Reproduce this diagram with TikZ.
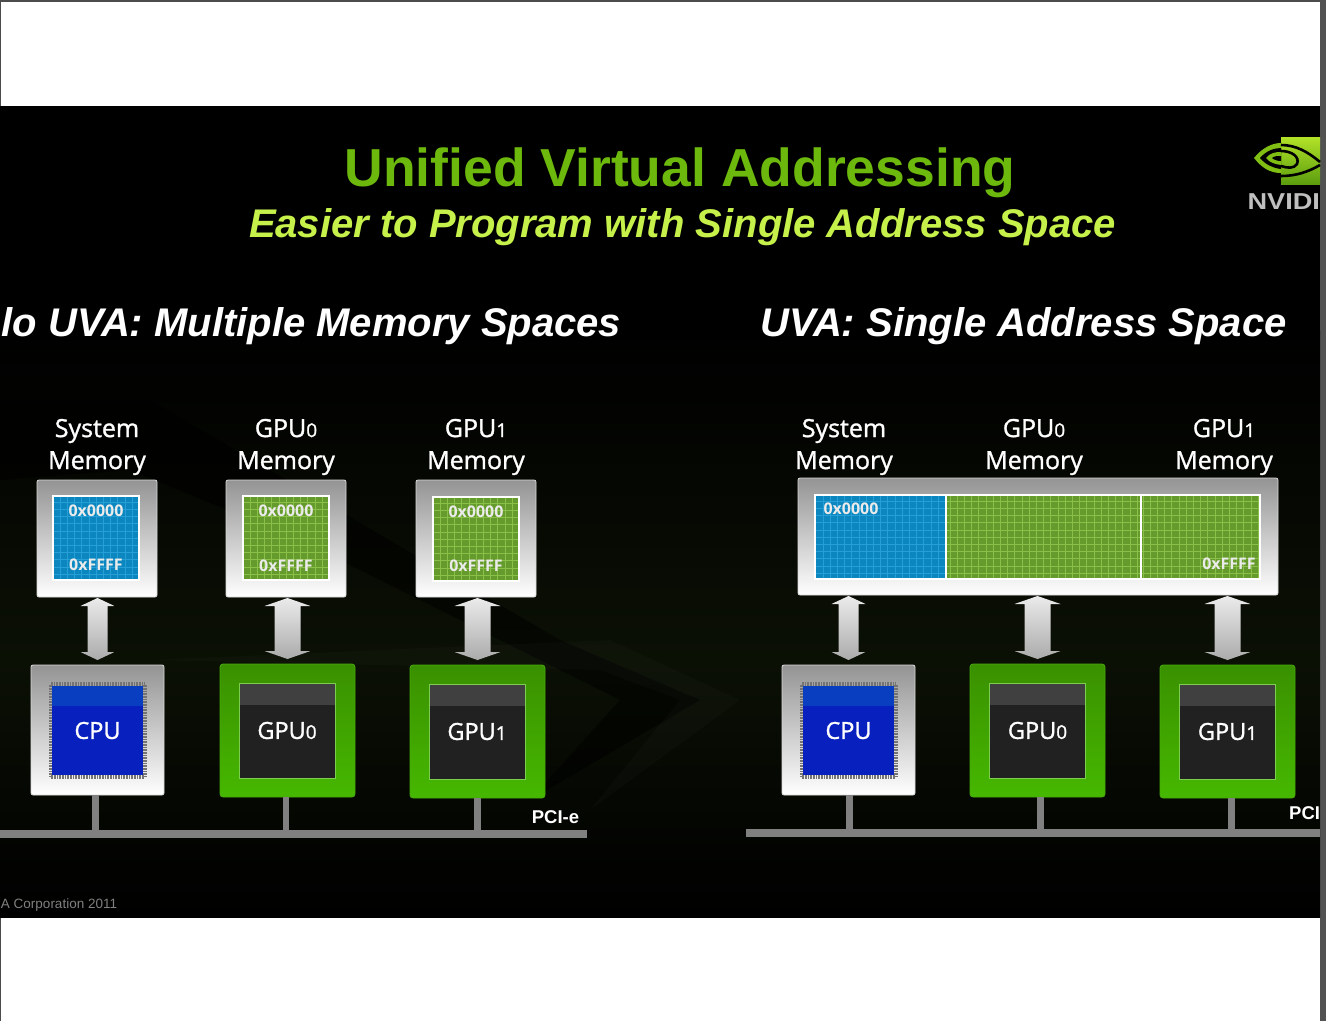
\documentclass[tikz,border=0pt]{standalone}
\usepackage{fontspec}
\setmainfont{Liberation Sans}
\newfontfamily\labelfont[FakeBold=1.2]{Open Sans}
\newfontfamily\addrfont{Open Sans}
\usetikzlibrary{calc}

\definecolor{slidegreen}{HTML}{6CB80C}
\definecolor{subgreen}{HTML}{C6F04A}
\definecolor{membluefill}{HTML}{0B86BE}
\definecolor{membluegrid}{HTML}{259FD6}
\definecolor{memgreenfill}{HTML}{659A2C}
\definecolor{memgreengrid}{HTML}{8ABF48}
\definecolor{busgray}{HTML}{808080}
\definecolor{glow}{HTML}{0B1005}
\definecolor{boxgreentop}{HTML}{3A9000}
\definecolor{boxgreenlow}{HTML}{46B800}
\definecolor{boxgreenline}{HTML}{46AA0A}
\definecolor{chipblue}{HTML}{0820BE}
\definecolor{chipband}{HTML}{0A3EC0}
\definecolor{chipline}{HTML}{7DCD50}
\definecolor{logotop}{HTML}{B2E228}
\definecolor{logolow}{HTML}{5C9E0E}
\definecolor{logoeye}{HTML}{80BE14}

% smaller digits of the GPU names
\newcommand{\lownum}[1]{{\fontsize{19}{19}\selectfont #1}}
% fat two-headed arrow between two anchors: from, to, head half width, shaft half width
\newcommand{\fatlink}[4]{
    \path (#2 |- #1) ++(0,1) coordinate (ftop);
    \path (#2) ++(0,-5) coordinate (fbot);
    \draw[fatarrow] (ftop) -- ++(#3,8) -- ++({#4-#3},0) -- ($(fbot)+(#4,-8)$) -- ($(fbot)+(#3,-8)$) -- (fbot)
        -- ($(fbot)+(-#3,-8)$) -- ($(fbot)+(-#4,-8)$) -- ($(ftop)+(-#4,8)$) -- ($(ftop)+(-#3,8)$) -- cycle;
}

\begin{document}
\begin{tikzpicture}[
    x=1pt, y=-1pt,
    every node/.style={inner sep=0pt, outer sep=0pt},
    heading/.style={font=\fontsize{40}{46}\selectfont\bfseries\itshape, text=white},
    memname/.style={font=\labelfont\fontsize{25}{32}\selectfont, text=white, align=center},
    silverbox/.style={rectangle, rounded corners=2pt, draw=black!15, line width=0.8pt, top color=black!42, bottom color=white},
    gpubox/.style={rectangle, rounded corners=3pt, minimum width=135, minimum height=133, top color=boxgreentop, bottom color=boxgreenlow, draw=boxgreenline, line width=0.8pt},
    cellgrid/.style={path picture={
        \draw[#1, line width=0.5pt, step=7.2pt] (path picture bounding box.south west) grid (path picture bounding box.north east);}},
    bluecell/.style={rectangle, fill=membluefill, cellgrid=membluegrid, draw=white, line width=2.4pt},
    greencell/.style={rectangle, fill=memgreenfill, cellgrid=memgreengrid, draw=white, line width=2.4pt},
    addr/.style={font=\addrfont\bfseries\fontsize{16}{18}\selectfont, text=white!92!black},
    cpuchip/.style={rectangle, minimum width=91, minimum height=89, fill=chipblue, text=white, font=\labelfont\fontsize{23.5}{30}\selectfont,
        path picture={\fill[chipband] (path picture bounding box.north west) rectangle ([yshift=-20pt]path picture bounding box.north east);}},
    cpupins/.style={rectangle, minimum width=94, minimum height=93, draw=black!55, line width=4pt, dash pattern=on 0.8pt off 0.8pt},
    gpuchip/.style={rectangle, minimum width=96, minimum height=95, fill=black!87, draw=chipline, line width=0.7pt, text=white, font=\labelfont\fontsize{23.5}{30}\selectfont,
        path picture={\fill[black!75] (path picture bounding box.north west) rectangle ([yshift=-22pt]path picture bounding box.north east);}},
    fatarrow/.style={draw=none, top color=white!92!black, bottom color=black!33},
    bus/.style={rectangle, fill=busgray, minimum height=8},
    stub/.style={draw=busgray, line width=6.5pt},
    buslabel/.style={font=\bfseries\fontsize{18.5}{20}\selectfont, text=white}
]

    % ================= PAGE AND SLIDE =================
    \useasboundingbox (0,0) rectangle (1326,1021);
    \fill[white] (0,0) rectangle (1326,1021);
    \fill[black!70] (0,0) rectangle (1326,1.5);
    \fill[black!70] (0,0) rectangle (1,1021);
    \fill[black] (0,106) rectangle (1320,917);
    \fill[black!68] (1320,0) rectangle (1326,1021);
    \shade[top color=black, bottom color=glow] (0,330) rectangle (1320,660);
    \shade[top color=glow, bottom color=black] (0,660) rectangle (1320,917);
    % faint swooshes behind the left panel
    \fill[black, opacity=0.5] (0,400) -- (150,400) -- (560,640) -- (700,700) -- (530,800) -- (620,700) -- (300,540) -- (130,470) -- (0,480) -- cycle;
    \fill[white, opacity=0.02] (150,660) -- (610,640) -- (740,700) -- (590,810) -- (680,700) -- (600,670) -- cycle;

    % ================= TITLES =================
    \node[font=\fontsize{53.5}{60}\selectfont\bfseries, text=slidegreen] (title) at (680,173) {Unified Virtual Addressing};
    \node[font=\fontsize{40}{44}\selectfont\bfseries\itshape, text=subgreen] (subtitle) at (682.5,227) {Easier to Program with Single Address Space};
    \node[heading] (headleft) at (311.5,326.5) {lo UVA: Multiple Memory Spaces};
    \node[heading] (headright) at (1023.5,326.5) {UVA: Single Address Space};

    % ================= LOGO =================
    \shade[top color=logotop, bottom color=logolow] (1281,137) rectangle (1320,184);
    \fill[logoeye] (1254,158) .. controls (1262,148) and (1272,143) .. (1281,143) -- (1281,173) .. controls (1270,173) and (1262,168) .. (1254,158) -- cycle;
    \fill[black] (1260,158) .. controls (1266,151) and (1274,148) .. (1281,148) -- (1281,169) .. controls (1273,168) and (1266,165) .. (1260,158) -- cycle;
    \fill[logoeye] (1266,158) .. controls (1270,153) and (1275,152) .. (1281,152) -- (1281,165) .. controls (1275,164) and (1270,163) .. (1266,158) -- cycle;
    \fill[black] (1272,158) .. controls (1274,156) and (1278,156) .. (1281,156) -- (1281,161) .. controls (1278,161) and (1274,160) .. (1272,158) -- cycle;
    \draw[black, line width=2.6pt] (1281,145) .. controls (1296,145) and (1308,152) .. (1320,162);
    \draw[black, line width=2.6pt] (1281,151) .. controls (1292,151) and (1300,157) .. (1297,164) .. controls (1294,169) and (1287,168) .. (1281,166);
    \draw[black, line width=2.6pt] (1281,176) .. controls (1296,176) and (1308,172) .. (1320,165);
    \node[font=\fontsize{23}{24}\selectfont\bfseries, text=black!25, anchor=east, xscale=1.18] (logotext) at (1320,202) {NVIDI};

    % ================= LEFT: MEMORY COLUMNS =================
    \node[memname] (sysname) at (97,447) {System\\Memory};
    \node[memname] (gpu0name) at (286,447) {GPU\lownum{0}\\Memory};
    \node[memname] (gpu1name) at (476,447) {GPU\lownum{1}\\Memory};

    \node[silverbox, minimum width=120, minimum height=117] (sysmem) at (97,538.5) {};
    \node[silverbox, minimum width=120, minimum height=117] (gpu0mem) at (286,538.5) {};
    \node[silverbox, minimum width=120, minimum height=117] (gpu1mem) at (476,538.5) {};

    \node[bluecell, minimum width=86, minimum height=84] (syscell) at (96,538) {};
    \node[greencell, minimum width=86, minimum height=84] (gpu0cell) at (286,538) {};
    \node[greencell, minimum width=86, minimum height=84] (gpu1cell) at (476,539) {};

    \node[addr] (sysfirst) at (96,511) {0x0000};
    \node[addr] (syslast) at (96,565) {0xFFFF};
    \node[addr] (gpu0first) at (286,511) {0x0000};
    \node[addr] (gpu0last) at (286,566) {0xFFFF};
    \node[addr] (gpu1first) at (476,512) {0x0000};
    \node[addr] (gpu1last) at (476,566) {0xFFFF};

    % ================= LEFT: PROCESSORS =================
    \node[silverbox, minimum width=133, minimum height=130] (cpubox) at (97.5,730) {};
    \node[gpubox] (gpu0box) at (287.5,730.5) {};
    \node[gpubox] (gpu1box) at (477.5,731.5) {};

    \node[cpupins] (cpupin) at (97.5,730.5) {};
    \node[cpuchip] (cpu) at (97.5,730.5) {CPU};
    \node[gpuchip] (gpu0) at (287,730.5) {GPU\lownum{0}};
    \node[gpuchip] (gpu1) at (477,731.5) {GPU\lownum{1}};

    \node[bus, minimum width=587, anchor=west] (busleft) at (0,834) {};
    \node[buslabel] (pcileft) at (555.5,817) {PCI-e};

    % ================= LEFT: LINKS =================
    \fatlink{sysmem.south}{cpubox.north}{17}{10}
    \fatlink{gpu0mem.south}{gpu0box.north}{23}{13}
    \fatlink{gpu1mem.south}{gpu1box.north}{23}{13}
    \draw[stub] ([xshift=-2pt]cpubox.south) -- ([xshift=-2pt]cpubox.south |- busleft.north);
    \draw[stub] ([xshift=-1.5pt]gpu0box.south) -- ([xshift=-1.5pt]gpu0box.south |- busleft.north);
    \draw[stub] (gpu1box.south) -- (gpu1box.south |- busleft.north);

    % ================= RIGHT: SHARED MEMORY =================
    \node[memname] (usysname) at (844,447) {System\\Memory};
    \node[memname] (ugpu0name) at (1034,447) {GPU\lownum{0}\\Memory};
    \node[memname] (ugpu1name) at (1224,447) {GPU\lownum{1}\\Memory};

    \node[silverbox, minimum width=480, minimum height=117] (umem) at (1038,536.5) {};
    \node[bluecell, minimum width=131, minimum height=84, anchor=west] (usyscell) at (815,537) {};
    \node[greencell, minimum width=195, minimum height=84, anchor=west] (ugpu0cell) at (946,537) {};
    \node[greencell, minimum width=119, minimum height=84, anchor=west] (ugpu1cell) at (1141,537) {};

    \node[addr] (ufirst) at (851,509) {0x0000};
    \node[addr] (ulast) at (1229,564) {0xFFFF};

    % ================= RIGHT: PROCESSORS =================
    \node[silverbox, minimum width=133, minimum height=130] (ucpubox) at (848.5,730) {};
    \node[gpubox] (ugpu0box) at (1037.5,730.5) {};
    \node[gpubox] (ugpu1box) at (1227.5,731.5) {};

    \node[cpupins] (ucpupin) at (848.5,730.5) {};
    \node[cpuchip] (ucpu) at (848.5,730.5) {CPU};
    \node[gpuchip] (ugpu0) at (1037.5,730.5) {GPU\lownum{0}};
    \node[gpuchip] (ugpu1) at (1227.5,731.5) {GPU\lownum{1}};

    \node[bus, minimum width=574, anchor=west] (busright) at (746,832.5) {};
    \node[buslabel, anchor=east] (pciright) at (1320,813) {PCI};

    % ================= RIGHT: LINKS =================
    \fatlink{umem.south}{ucpubox.north}{17}{10}
    \fatlink{umem.south}{ugpu0box.north}{23}{13}
    \fatlink{umem.south}{ugpu1box.north}{23}{13}
    \draw[stub] ([xshift=1pt]ucpubox.south) -- ([xshift=1pt]ucpubox.south |- busright.north);
    \draw[stub] ([xshift=3pt]ugpu0box.south) -- ([xshift=3pt]ugpu0box.south |- busright.north);
    \draw[stub] ([xshift=4pt]ugpu1box.south) -- ([xshift=4pt]ugpu1box.south |- busright.north);

    % ================= FOOTER =================
    \node[font=\fontsize{13.5}{15}\selectfont, text=black!50, anchor=west] (copyline) at (1,904.5) {A Corporation 2011};

\end{tikzpicture}
\end{document}
